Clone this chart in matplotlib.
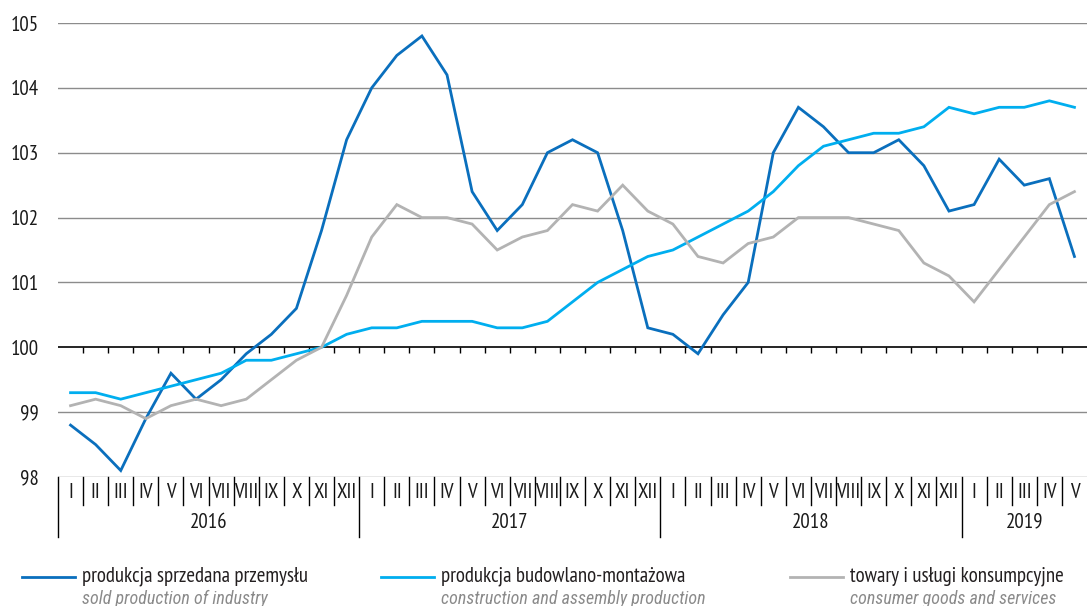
import matplotlib
matplotlib.use("Agg")
import matplotlib.pyplot as plt
import matplotlib.transforms as mtransforms
from matplotlib.lines import Line2D

plt.rcParams['font.family'] = ['PT Sans Narrow', 'DejaVu Sans']

# data (previous year = 100, monthly)
months = ["I", "II", "III", "IV", "V", "VI", "VII", "VIII", "IX", "X", "XI", "XII"]
years = ["2016", "2017", "2018", "2019"]
months_per_year = [12, 12, 12, 5]

industry = [98.8, 98.5, 98.1, 98.9, 99.6, 99.2, 99.5, 99.9, 100.2, 100.6, 101.8, 103.2,
            104.0, 104.5, 104.8, 104.2, 102.4, 101.8, 102.2, 103.0, 103.2, 103.0, 101.8, 100.3,
            100.2, 99.9, 100.5, 101.0, 103.0, 103.7, 103.4, 103.0, 103.0, 103.2, 102.8, 102.1,
            102.2, 102.9, 102.5, 102.6, 101.4]
construction = [99.3, 99.3, 99.2, 99.3, 99.4, 99.5, 99.6, 99.8, 99.8, 99.9, 100.0, 100.2,
                100.3, 100.3, 100.4, 100.4, 100.4, 100.3, 100.3, 100.4, 100.7, 101.0, 101.2, 101.4,
                101.5, 101.7, 101.9, 102.1, 102.4, 102.8, 103.1, 103.2, 103.3, 103.3, 103.4, 103.7,
                103.6, 103.7, 103.7, 103.8, 103.7]
consumer = [99.1, 99.2, 99.1, 98.9, 99.1, 99.2, 99.1, 99.2, 99.5, 99.8, 100.0, 100.8,
            101.7, 102.2, 102.0, 102.0, 101.9, 101.5, 101.7, 101.8, 102.2, 102.1, 102.5, 102.1,
            101.9, 101.4, 101.3, 101.6, 101.7, 102.0, 102.0, 102.0, 101.9, 101.8, 101.3, 101.1,
            100.7, 101.2, 101.7, 102.2, 102.4]

labels_pl = ["produkcja sprzedana przemysłu", "produkcja budowlano-montażowa",
             "towary i usługi konsumpcyjne"]
labels_en = ["sold production of industry", "construction and assembly production",
             "consumer goods and services"]
colors = ["#0a6fbd", "#00aeef", "#b3b3b3"]
yticks = [98, 99, 100, 101, 102, 103, 104, 105]

W, H = 1087, 606
fig = plt.figure(figsize=(W / 100, H / 100), dpi=100)
ax = fig.add_axes([58 / W, 1 - 477 / H, 1 - 58 / W, (477 - 23) / H])

n = len(industry)
x = list(range(n))
ax.set_xlim(-0.5, n - 0.5)
ax.set_ylim(98, 105)

# grid
for v in yticks:
    if v == 100:
        continue
    ax.axhline(v, color="#8c8c8c", lw=1.0, zorder=1)
ax.axhline(100, color="black", lw=1.2, zorder=3)
bounds = [k - 0.5 for k in range(1, n)]
ax.vlines(bounds, 100 - 0.09, 100, color="black", lw=1.0, zorder=3)

for series, c in zip([industry, construction, consumer], colors):
    ax.plot(x, series, color=c, lw=2.0, zorder=4, solid_joinstyle="miter")

for s in ax.spines.values():
    s.set_visible(False)
ax.set_xticks([])
ax.set_yticks(yticks)
ax.set_yticklabels([str(v) for v in yticks], fontsize=15, color="#1a1a1a")
ax.tick_params(axis="y", length=0, pad=14)

# month / year band under the plot
trans = mtransforms.blended_transform_factory(ax.transData, ax.transAxes)
band = -(505 - 477) / 454
yband = -(537 - 477) / 454
month_labels = []
for cnt in months_per_year:
    month_labels += months[:cnt]
for i, m in enumerate(month_labels):
    ax.text(i, -(492 - 477) / 454, m, transform=trans, ha="center", va="center",
            fontsize=15, color="#1a1a1a", clip_on=False)
year_starts = [0]
for cnt in months_per_year[:-1]:
    year_starts.append(year_starts[-1] + cnt)
for b in bounds:
    if b + 0.5 in year_starts:
        continue
    ax.plot([b, b], [0, band], transform=trans, color="black", lw=1.0, clip_on=False)
for ys in year_starts:
    ax.plot([ys - 0.5, ys - 0.5], [0, yband], transform=trans, color="black", lw=1.0,
            clip_on=False)
for ys, cnt, yr in zip(year_starts, months_per_year, years):
    ax.text(ys + (cnt - 1) / 2, -(522 - 477) / 454, yr, transform=trans, ha="center",
            va="center", fontsize=15, color="#1a1a1a", clip_on=False)

# legend
leg_x = [22, 381, 790]
for lx, c, lp, le in zip(leg_x, colors, labels_pl, labels_en):
    fig.add_artist(Line2D([lx / W, (lx + 53) / W], [1 - 577 / H, 1 - 577 / H],
                          color=c, lw=2.0, transform=fig.transFigure))
    fig.text((lx + 60) / W, 1 - 576 / H, lp, ha="left", va="center", fontsize=15,
             color="#231f20")
    fig.text((lx + 60) / W, 1 - 599 / H, le, ha="left", va="center", fontsize=13,
             color="#8a8a8a", style="italic",
             family=["Roboto Condensed", "PT Sans", "DejaVu Sans"])

fig.savefig("out.png", dpi=100)
